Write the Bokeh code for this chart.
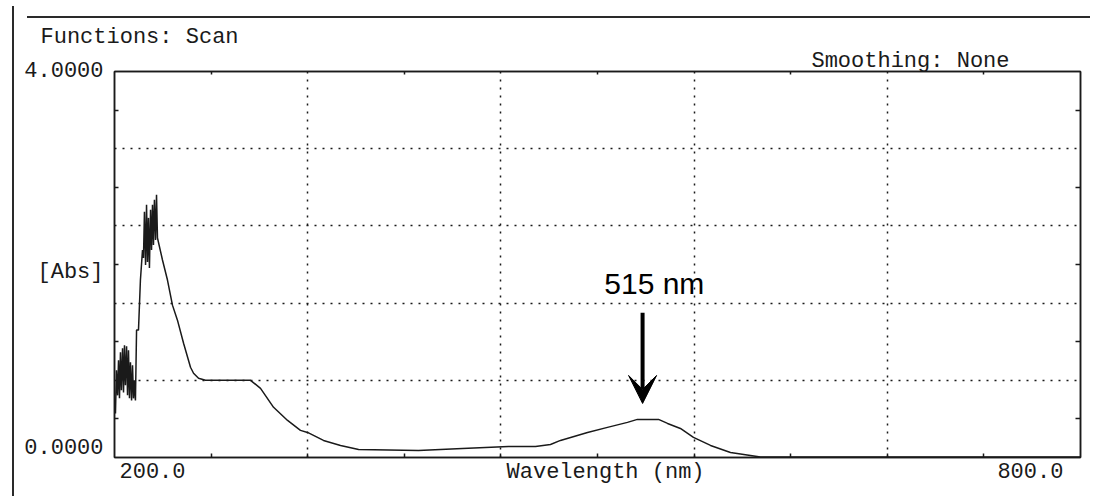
from bokeh.plotting import figure
from bokeh.models import (Range1d, LinearAxis, FixedTicker, Grid, Label, Arrow,
                          VeeHead, CustomJSTickFormatter)
from bokeh.embed import file_html
from bokeh.resources import INLINE

# ---- data ----
wavelength = [200.6, 201.2, 201.9, 202.5, 203.1, 203.7, 204.3, 205.0, 205.6, 206.2,
              206.8, 207.5, 208.1, 208.7, 209.3, 209.9, 210.6, 211.2, 211.8, 212.4,
              213.0, 213.7, 214.9, 216.1, 217.4, 218.0, 218.6, 219.3, 219.9, 220.5,
              221.1, 221.7, 222.4, 223.0, 223.6, 224.2, 224.8, 225.5, 226.1, 226.7,
              229.8, 232.9, 236.0, 239.1, 242.9, 247.2, 249.1, 252.2, 256.5, 284.5,
              290.7, 298.8, 307.5, 315.5, 319.9, 329.8, 340.4, 351.6, 388.8, 416.1,
              444.7, 461.5, 470.8, 477.0, 493.8, 506.2, 518.6, 524.8, 537.9, 543.5,
              551.5, 559.6, 570.2, 582.6, 595.0, 601.2, 800.0]
absorbance = [0.457, 0.904, 0.644, 1.008, 0.613, 1.091, 0.696, 1.133, 0.675, 1.164,
              0.748, 1.153, 0.644, 1.112, 0.613, 0.987, 0.592, 0.956, 0.613, 0.800,
              0.592, 1.320, 1.320, 1.839, 2.151, 2.068, 2.546, 1.995, 2.618, 2.026,
              2.483, 1.964, 2.566, 2.151, 2.618, 2.203, 2.670, 2.255, 2.722, 2.275,
              2.047, 1.839, 1.579, 1.423, 1.184, 0.935, 0.873, 0.821, 0.800, 0.800,
              0.717, 0.520, 0.384, 0.281, 0.260, 0.177, 0.125, 0.083, 0.073, 0.094,
              0.114, 0.114, 0.135, 0.177, 0.260, 0.312, 0.364, 0.395, 0.395, 0.353,
              0.301, 0.208, 0.125, 0.052, 0.021, 0.005, 0.005]

x_grid_ticks = [320, 440, 560, 680]
x_minor_ticks = [260, 380, 500, 620, 740]
y_grid_ticks = [0.8, 1.6, 2.4, 3.2]
y_minor_ticks = [0.4, 1.2, 2.0, 2.8, 3.6]

x_min, x_max = 200, 800
y_min, y_max = 0.0, 4.0

title_left = "Functions: Scan"
title_right = "Smoothing: None"
y_labels = ["0.0000", "[Abs]", "4.0000"]
y_label_pos = [0.09, 1.92, 4.0]
x_labels = ["200.0", "Wavelength (nm)", "800.0"]
x_label_pos = [223.6, 505.0, 768.9]
title_right_pos = 694.4
peak_label = "515 nm"
peak_arrow_x = 528
peak_arrow_top, peak_arrow_tip = 1.50, 0.56
peak_label_pos = (535.3, 1.80)

MONO = "Liberation Mono"
INK = "#1a1a1a"

p = figure(width=1096, height=496, x_range=Range1d(x_min, x_max),
           y_range=Range1d(y_min, y_max), output_backend="svg",
           toolbar_location=None, x_axis_type=None, y_axis_type=None,
           min_border_left=114, min_border_right=16, min_border_top=71,
           min_border_bottom=39, title=title_left)
p.background_fill_color = "white"
p.border_fill_color = None
p.outline_line_color = INK
p.outline_line_width = 1.5
p.styles = {"background": (
    "linear-gradient(#2a2a2a,#2a2a2a) 12px 6px / 2px 490px no-repeat,"
    "linear-gradient(#2a2a2a,#2a2a2a) 27px 16px / 1063px 2px no-repeat, white")}

p.title.align = "left"
p.title.offset = -74
p.title.text_font = MONO
p.title.text_font_size = "22px"
p.title.text_font_style = "normal"
p.title.text_color = INK
p.title.standoff = -8

# dotted grid
p.add_layout(Grid(dimension=0, ticker=FixedTicker(ticks=x_grid_ticks),
                  grid_line_color=INK, grid_line_dash="2 6", grid_line_width=1.5))
p.add_layout(Grid(dimension=1, ticker=FixedTicker(ticks=y_grid_ticks),
                  grid_line_color=INK, grid_line_dash="2 6", grid_line_width=1.5))

blank = CustomJSTickFormatter(code="return ''")

def make_axis(major, minor, minor_in, overrides=None, standoff=0, formatter=None):
    ax = LinearAxis(ticker=FixedTicker(ticks=major, minor_ticks=minor),
                    major_label_standoff=standoff,
                    major_tick_in=0, major_tick_out=0,
                    minor_tick_in=minor_in, minor_tick_out=0,
                    axis_line_color=INK, axis_line_width=1.5,
                    minor_tick_line_color=INK, minor_tick_line_width=1.5,
                    major_label_text_font=MONO, major_label_text_font_size="22px",
                    major_label_text_color=INK)
    if overrides:
        ax.major_label_overrides = overrides
    if formatter is not None:
        ax.formatter = formatter
    return ax

all_x_ticks = sorted(x_grid_ticks + x_minor_ticks)
p.add_layout(make_axis(x_label_pos, all_x_ticks, 4,
                       dict(zip(x_label_pos, x_labels)), standoff=2), "below")
p.add_layout(make_axis([title_right_pos], x_minor_ticks, 3,
                       {title_right_pos: title_right}, standoff=-2), "above")
p.add_layout(make_axis(y_label_pos, y_minor_ticks, 4,
                       dict(zip(y_label_pos, y_labels)), standoff=11), "left")
p.add_layout(make_axis([], y_minor_ticks, 5, formatter=blank), "right")

p.line(wavelength, absorbance, line_color=INK, line_width=1.5)

# peak annotation
p.add_layout(Arrow(x_start=peak_arrow_x, y_start=peak_arrow_top, x_end=peak_arrow_x,
                   y_end=peak_arrow_tip, line_width=4, line_color="black",
                   end=VeeHead(size=28, fill_color="black", line_color="black")))
p.add_layout(Label(x=peak_label_pos[0], y=peak_label_pos[1], text=peak_label,
                   text_font="Liberation Sans", text_font_size="30px",
                   text_align="center", text_baseline="middle", text_color="black"))

open("out.html", "w").write(file_html(p, INLINE))
